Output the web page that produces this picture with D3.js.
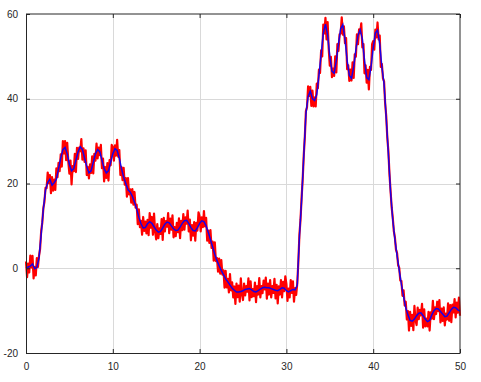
<!DOCTYPE html>
<html>
<head>
<meta charset="utf-8">
<script src="https://cdn.jsdelivr.net/npm/d3@7"></script>
<style>
  body { margin: 0; background: #fff; }
  svg text { font-family: "Liberation Sans", Arial, sans-serif; font-size: 10px; fill: #262626; }
</style>
</head>
<body>
<svg id="chart" width="481" height="382"></svg>
<script>
// sample spacing of the two traces (time axis 0..50)
const xTicks = [0, 10, 20, 30, 40, 50];
const yTicks = [-20, 0, 20, 40, 60];

// raw (noisy) signal, one sample every 0.125
const rawSignal = [
  1.6, -2.1, 1.1, -1.0, 3.0, 0.2, 2.9, -2.4, 0.3, -1.7, 2.4, 0.3, 2.9, 4.6, 8.8, 10.7, 14.2, 15.7, 19.0, 18.9,
  22.6, 20.1, 22.0, 17.7, 21.5, 18.3, 20.9, 18.5, 23.6, 21.5, 24.9, 22.9, 26.9, 24.0, 30.0, 27.1, 30.0, 25.5, 29.6, 25.1,
  22.3, 25.4, 19.8, 24.1, 22.9, 27.0, 22.7, 28.4, 25.8, 28.5, 27.6, 30.5, 25.6, 28.3, 25.1, 27.8, 22.0, 23.9, 21.2, 24.5,
  22.5, 26.4, 22.4, 27.0, 25.4, 29.4, 25.9, 28.5, 26.7, 29.1, 23.6, 25.9, 20.5, 23.9, 21.3, 24.8, 20.7, 25.5, 24.3, 29.1,
  28.6, 25.4, 29.0, 26.6, 30.3, 26.3, 27.9, 22.0, 23.9, 20.8, 23.7, 19.7, 21.3, 16.9, 21.3, 17.4, 18.6, 15.5, 18.7, 15.0,
  18.0, 14.3, 15.0, 10.4, 13.9, 9.7, 11.2, 7.9, 12.1, 8.8, 11.0, 8.2, 11.4, 7.8, 13.0, 9.6, 12.1, 7.9, 12.9, 8.7,
  6.8, 10.4, 7.1, 9.4, 8.1, 11.6, 6.7, 11.9, 8.7, 11.1, 9.8, 13.0, 8.3, 11.7, 9.1, 12.5, 7.3, 9.7, 7.6, 10.7,
  8.5, 11.8, 7.1, 11.2, 9.0, 12.8, 9.1, 12.0, 10.5, 13.6, 8.7, 11.5, 6.6, 10.2, 7.7, 10.9, 6.5, 10.7, 8.9, 13.2,
  12.2, 8.7, 12.0, 9.7, 13.5, 9.9, 11.9, 6.5, 8.9, 6.0, 9.0, 4.8, 6.3, 1.8, 6.1, 1.7, 2.4, -0.8, 2.3, -1.3,
  1.9, -1.5, -0.5, -4.6, -0.6, -4.5, -2.5, -5.7, -1.4, -5.2, -3.3, -6.9, -4.3, -8.4, -3.6, -6.8, -4.1, -7.9, -2.4, -6.1,
  -7.5, -3.6, -6.4, -4.2, -5.5, -2.4, -7.6, -3.1, -6.8, -4.9, -6.6, -3.4, -8.0, -4.2, -6.2, -2.3, -6.9, -4.2, -5.9, -2.9,
  -5.0, -2.2, -7.2, -3.6, -6.2, -2.8, -6.9, -4.2, -5.8, -2.5, -7.1, -3.9, -8.3, -4.3, -6.2, -2.8, -6.9, -3.2, -5.4, -1.9,
  -3.7, -7.7, -4.8, -6.9, -2.8, -5.8, -3.1, -7.9, -4.7, -6.3, -3.6, 1.4, 7.9, 11.4, 16.6, 20.9, 26.7, 31.0, 37.1, 38.0,
  42.9, 40.7, 42.8, 38.3, 41.9, 38.2, 40.3, 38.2, 43.6, 42.5, 46.9, 46.1, 51.4, 50.0, 57.5, 55.4, 59.1, 54.0, 58.1, 51.8,
  47.8, 49.9, 45.1, 47.1, 45.4, 50.0, 46.2, 52.9, 51.3, 55.2, 55.4, 59.2, 55.1, 57.1, 53.1, 54.3, 47.0, 47.9, 44.2, 46.9,
  44.3, 48.6, 44.9, 50.5, 49.9, 55.2, 52.9, 56.4, 55.5, 57.8, 52.1, 52.9, 46.0, 47.9, 43.8, 46.8, 42.2, 47.5, 46.8, 52.9,
  53.6, 51.6, 56.3, 54.5, 58.0, 54.0, 54.9, 47.5, 48.2, 44.8, 44.1, 39.0, 35.9, 30.8, 27.6, 22.2, 18.3, 14.4, 12.0, 8.8,
  7.3, 4.4, 3.6, 0.7, 0.1, -2.9, -3.0, -6.5, -5.2, -8.8, -7.9, -12.1, -10.1, -14.7, -10.3, -13.6, -11.0, -14.6, -8.9, -12.3,
  -13.4, -9.3, -12.0, -9.8, -11.1, -8.4, -14.0, -9.7, -13.7, -11.9, -13.7, -10.3, -14.7, -10.4, -11.9, -7.7, -12.0, -9.2, -10.8, -7.9,
  -10.1, -7.5, -12.8, -9.5, -12.4, -9.2, -13.5, -10.7, -12.1, -8.3, -12.4, -8.7, -12.7, -8.6, -10.4, -7.3, -11.6, -8.1, -10.5, -6.9,
  -11.2
];

// smoothed signal, one sample every 0.25
const smoothSignal = [
  0, 0.3, 0.5, 1.0, -0.1, 0.2, 2.5, 8, 14, 18.5,
  20.2, 21, 19.6, 20.2, 21, 23.5, 26, 28, 28.5, 27,
  24.5, 23, 23.5, 25.5, 27.5, 28.7, 28, 26, 24, 22.5,
  23, 25, 27, 28, 27.5, 25.5, 23.5, 22.5, 23, 25,
  27, 28.2, 27.8, 26, 23.5, 21.5, 20, 18.5, 18, 17,
  15.6, 14, 12, 10.5, 9.5, 9.6, 10.5, 11, 10.6, 9.8,
  9, 8.5, 8.7, 9.5, 10.4, 10.9, 10.7, 10, 9.3, 8.9,
  9, 9.7, 10.6, 11.2, 11.3, 10.6, 9.6, 8.9, 8.8, 9.6,
  10.6, 11.2, 11, 10, 8.5, 6.8, 5, 3.3, 1.8, 0.6,
  -0.5, -1.5, -2.5, -3.2, -4, -4.7, -5.2, -5.6, -5.6, -5.5,
  -5.3, -5.0, -4.9, -4.8, -5.1, -5.5, -5.6, -5.3, -4.9, -4.6,
  -4.5, -4.6, -4.6, -4.8, -5.0, -5.2, -5.3, -5.0, -4.6, -4.7,
  -5.3, -5.6, -5.3, -5.0, -5.1, -4.0, 7.5, 16, 26.5, 36.5,
  40.5, 41.8, 40, 39.6, 41, 45.5, 50.5, 55.5, 57.6, 55,
  50, 46.5, 46, 49, 53, 56.5, 57.5, 54, 49, 45.5,
  44.8, 47.5, 51.5, 55, 56.3, 54, 49, 45, 44.5, 47.5,
  52, 55.5, 56.2, 53, 47.5, 43.5, 35.5, 27, 18, 11.5,
  6.8, 3, -0.5, -3.8, -6.7, -9.3, -11, -12.3, -12.5, -12,
  -11.2, -10.6, -10.5, -11.2, -12, -12.6, -12.3, -11, -10, -9.5,
  -9.6, -10.2, -10.8, -11.4, -11.3, -10.5, -9.7, -9.2, -9.3, -9.8,
  -10.1
];

const rawStep = 0.125;
const smoothStep = 0.25;

const margin = { top: 14, right: 21, bottom: 29, left: 26 };
const width = 481, height = 382;

const svg = d3.select("#chart");

const x = d3.scaleLinear().domain([0, 50]).range([margin.left, width - margin.right]);
const y = d3.scaleLinear().domain([-20, 60]).range([height - margin.bottom, margin.top]);

// grid
const grid = svg.append("g");
grid.selectAll(".vgrid")
    .data(xTicks.slice(1, -1))
    .enter().append("line")
    .attr("x1", d => Math.round(x(d)) + 0.5).attr("x2", d => Math.round(x(d)) + 0.5)
    .attr("y1", y(-20)).attr("y2", y(60))
    .attr("stroke", "#d9d9d9");
grid.selectAll(".hgrid")
    .data(yTicks.slice(1, -1))
    .enter().append("line")
    .attr("y1", d => Math.round(y(d)) + 0.5).attr("y2", d => Math.round(y(d)) + 0.5)
    .attr("x1", x(0)).attr("x2", x(50))
    .attr("stroke", "#d9d9d9");

// lines
const rawLine = d3.line()
    .x((d, i) => x(i * rawStep))
    .y(d => y(d));
const smoothLine = d3.line()
    .x((d, i) => x(i * smoothStep))
    .y(d => y(d));

svg.append("path")
    .datum(rawSignal)
    .attr("d", rawLine)
    .attr("fill", "none")
    .attr("stroke", "#ff0000")
    .attr("stroke-width", 2.2)
    .attr("stroke-linejoin", "round");

svg.append("path")
    .datum(smoothSignal)
    .attr("d", smoothLine)
    .attr("fill", "none")
    .attr("stroke", "#0000ff")
    .attr("stroke-width", 1.5)
    .attr("stroke-opacity", 0.9);

// axes (ticks pointing inward on all four sides)
const tick = 4;
const fmt = d => String(d);
svg.append("g")
    .attr("transform", "translate(0," + y(-20) + ")")
    .call(d3.axisBottom(x).tickValues(xTicks).tickSize(-tick).tickPadding(10).tickFormat(fmt))
    .call(g => g.select(".domain").remove());
svg.append("g")
    .attr("transform", "translate(0," + y(60) + ")")
    .call(d3.axisTop(x).tickValues(xTicks).tickSize(-tick).tickFormat(""))
    .call(g => g.select(".domain").remove());
svg.append("g")
    .attr("transform", "translate(" + x(0) + ",0)")
    .call(d3.axisLeft(y).tickValues(yTicks).tickSize(-tick).tickPadding(8).tickFormat(fmt))
    .call(g => g.select(".domain").remove());
svg.append("g")
    .attr("transform", "translate(" + x(50) + ",0)")
    .call(d3.axisRight(y).tickValues(yTicks).tickSize(-tick).tickFormat(""))
    .call(g => g.select(".domain").remove());

svg.selectAll(".tick line").attr("stroke", "#262626");
svg.selectAll(".tick text").attr("fill", "#262626").style("font-size", "10px")
    .style("font-family", "'Liberation Sans', Arial, sans-serif");

// frame: left/bottom crisp, top/right straddle two pixels as in the original
const frame = svg.append("g").attr("stroke", "#262626").attr("stroke-width", 1);
frame.append("line")
    .attr("x1", x(0) + 0.5).attr("x2", x(0) + 0.5)
    .attr("y1", y(60)).attr("y2", y(-20) + 1);
frame.append("line")
    .attr("x1", x(0)).attr("x2", x(50))
    .attr("y1", y(-20) + 0.5).attr("y2", y(-20) + 0.5);
frame.append("line")
    .attr("x1", x(0)).attr("x2", x(50))
    .attr("y1", y(60)).attr("y2", y(60));
frame.append("line")
    .attr("x1", x(50)).attr("x2", x(50))
    .attr("y1", y(60)).attr("y2", y(-20) + 1);
</script>
</body>
</html>
